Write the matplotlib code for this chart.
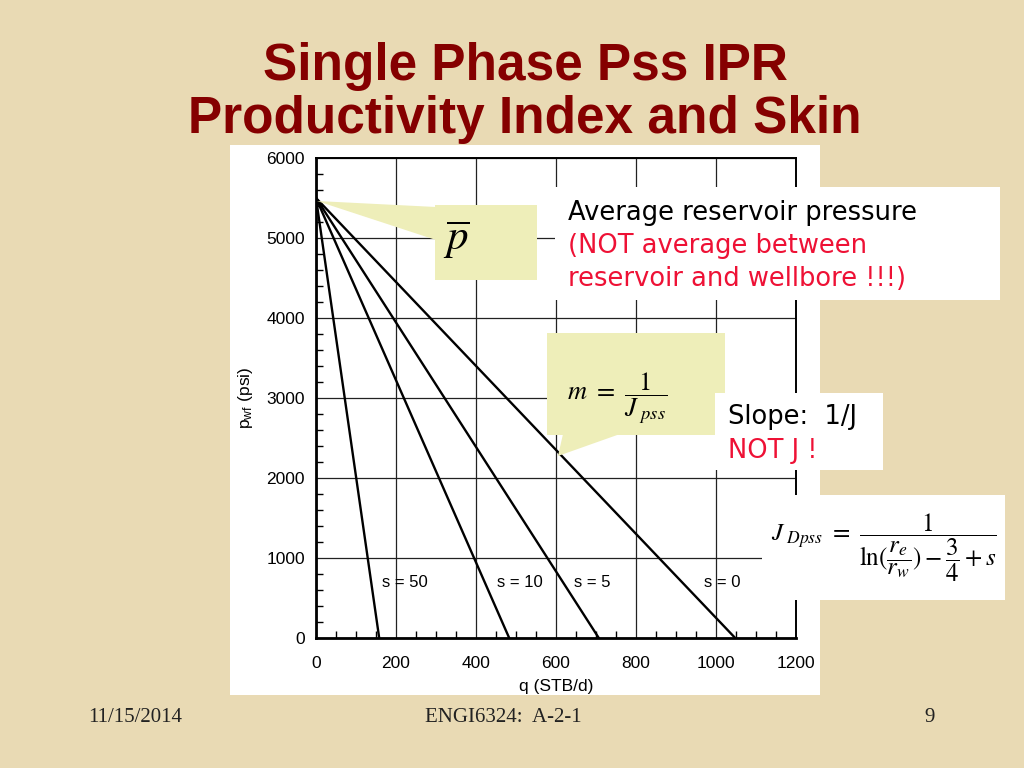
import matplotlib
matplotlib.use("Agg")
import matplotlib.pyplot as plt
from matplotlib.patches import Rectangle, Polygon
from matplotlib import font_manager
import numpy as np

# IPR lines: pwf = p_bar at q=0, down to 0 at q_max
p_bar = 5500
skins = [50, 10, 5, 0]
q_max = [158, 483, 707, 1048]
label_q = [222, 510, 690, 1015]
label_p = 690

x_ticks = [0, 200, 400, 600, 800, 1000, 1200]
y_ticks = [0, 1000, 2000, 3000, 4000, 5000, 6000]

W, H = 1024, 768
bg = "#E9DAB4"
callout = "#EEEEB9"
red_text = "#EE1135"
title_red = "#850000"


def fx(x):
    return x / W


def fy(y):
    return 1 - y / H


def px_rect(x0, y0, x1, y1, color, z):
    return Rectangle((fx(x0), fy(y1)), fx(x1) - fx(x0), fy(y0) - fy(y1),
                     facecolor=color, edgecolor="none", zorder=z)


names = {f.name for f in font_manager.fontManager.ttflist}
title_font = "Liberation Sans Narrow" if "Liberation Sans Narrow" in names else "Liberation Sans"
title_size = 44 if title_font == "Liberation Sans Narrow" else 37

plt.rcParams["mathtext.fontset"] = "stix"
fig = plt.figure(figsize=(10.24, 7.68), dpi=100)
fig.patch.set_facecolor(bg)

# white background of the pasted chart picture
fig.add_artist(px_rect(230, 145, 820, 695, "white", -1))

# title
fig.text(0.513, fy(80), "Single Phase Pss IPR", ha="center", va="baseline",
         fontsize=title_size, fontweight="bold", color=title_red, family=title_font)
fig.text(0.513, fy(133), "Productivity Index and Skin", ha="center", va="baseline",
         fontsize=title_size, fontweight="bold", color=title_red, family=title_font)

# chart
ax = fig.add_axes([fx(316), fy(638), fx(796) - fx(316), fy(158) - fy(638)])
ax.set_facecolor("white")
for s, qm in zip(skins, q_max):
    ax.plot([0, qm], [p_bar, 0], color="black", lw=1.7, zorder=3)
for s, lq in zip(skins, label_q):
    ax.text(lq, label_p, "s = %d" % s, ha="center", va="center", fontsize=12,
            family="Liberation Sans")
ax.set_xlim(0, 1200)
ax.set_ylim(0, 6000)
ax.set_xticks(x_ticks)
ax.set_yticks(y_ticks)
ax.set_xticks(np.arange(0, 1201, 50), minor=True)
ax.set_yticks(np.arange(0, 6001, 200), minor=True)
ax.grid(True, which="major", color="#222222", lw=0.9)
ax.tick_params(which="both", direction="in", labelsize=12.5)
ax.tick_params(axis="y", which="major", length=0, pad=8)
ax.tick_params(axis="x", which="major", length=0, pad=13)
ax.tick_params(which="minor", length=5, width=1)
for lab in ax.get_xticklabels() + ax.get_yticklabels():
    lab.set_family("Liberation Sans")
for side in ["left", "bottom"]:
    ax.spines[side].set_linewidth(2)
for side in ["top", "right"]:
    ax.spines[side].set_linewidth(1.4)
ax.set_xlabel("q (STB/d)", fontsize=12.5, family="Liberation Sans", labelpad=6)
ax.set_ylabel(r"p$_{\mathregular{wf}}$ (psi)", fontsize=12.5,
              family="Liberation Sans", labelpad=8)

# callout for p-bar
fig.add_artist(Polygon([(fx(317), fy(201)), (fx(436), fy(207)), (fx(436), fy(240))],
                       closed=True, facecolor=callout, edgecolor="none", zorder=4))
fig.add_artist(px_rect(435, 205, 537, 280, callout, 4))
fig.text(fx(456), fy(240), r"$\overline{p}$", ha="center", va="center",
         fontsize=31, zorder=6)

# callout for slope
fig.add_artist(Polygon([(fx(563), fy(434)), (fx(558), fy(456)), (fx(620), fy(434))],
                       closed=True, facecolor=callout, edgecolor="none", zorder=4))
fig.add_artist(px_rect(547, 333, 725, 435, callout, 4))
fig.text(fx(617), fy(398), r"$m\ =\ \dfrac{1}{J_{\ pss}}$", ha="center", va="center",
         fontsize=19, zorder=6)

# white text boxes
fig.add_artist(px_rect(555, 187, 1000, 300, "white", 5))
fig.text(fx(568), fy(220), "Average reservoir pressure", ha="left", va="baseline",
         fontsize=18.5, color="black", zorder=6)
fig.text(fx(568), fy(253), "(NOT average between", ha="left", va="baseline",
         fontsize=18.5, color=red_text, zorder=6)
fig.text(fx(568), fy(286), "reservoir and wellbore !!!)", ha="left", va="baseline",
         fontsize=18.5, color=red_text, zorder=6)

fig.add_artist(px_rect(715, 393, 883, 470, "white", 5))
fig.text(fx(728), fy(424), "Slope:  1/J", ha="left", va="baseline",
         fontsize=18.5, color="black", zorder=6)
fig.text(fx(728), fy(458), "NOT J !", ha="left", va="baseline",
         fontsize=18.5, color=red_text, zorder=6)

fig.add_artist(px_rect(762, 495, 1005, 600, "white", 5))
fig.text(fx(884), fy(548),
         r"$J_{\ Dpss}\ =\ \dfrac{1}{\ln(\dfrac{r_e}{r_w}) - \dfrac{3}{4} + s}$",
         ha="center", va="center", fontsize=18, zorder=6)

# footer
fig.text(fx(135), fy(718), "11/15/2014", ha="center", va="center", fontsize=15,
         family="Liberation Serif", color="#222222")
fig.text(fx(503), fy(718), "ENGI6324:  A-2-1", ha="center", va="center", fontsize=15,
         family="Liberation Serif", color="#222222")
fig.text(fx(930), fy(718), "9", ha="center", va="center", fontsize=15,
         family="Liberation Serif", color="#222222")

fig.savefig("out.png", dpi=100, facecolor=bg)
